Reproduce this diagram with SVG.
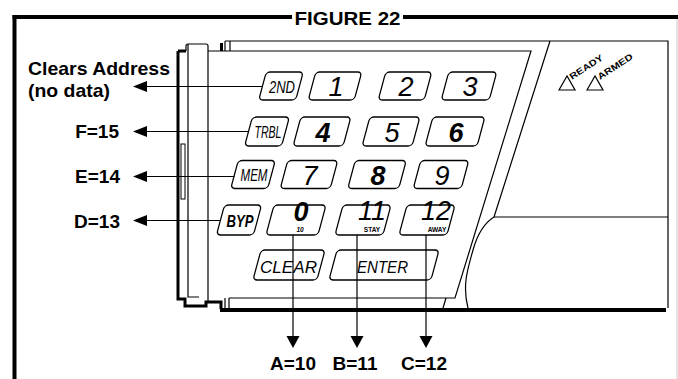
<svg xmlns="http://www.w3.org/2000/svg" width="678" height="379" viewBox="0 0 678 379">
<style>
.ln{stroke:#000;fill:none;stroke-width:1.2}
.key{stroke:#000;fill:#fff;stroke-width:1.3}
.lbl{font-family:"Liberation Sans",Arial,sans-serif;font-weight:bold;font-size:19px;fill:#000}
.fk{font-family:"Liberation Sans",Arial,sans-serif;font-style:italic;font-size:17px;fill:#000}
.dg{font-family:"Liberation Sans",Arial,sans-serif;font-style:italic;font-size:27px;fill:#000;text-anchor:middle}
.sm{font-family:"Liberation Sans",Arial,sans-serif;font-weight:bold;font-size:6.5px;fill:#000;text-anchor:middle}
.ind{font-family:"Liberation Sans",Arial,sans-serif;font-weight:bold;font-size:9px;fill:#000}
.arr{fill:#000}
</style>
<rect width="678" height="379" fill="#fff"/>
<g id="frame">
<line x1="14.5" y1="15" x2="14.5" y2="379" stroke="#000" stroke-width="4"/>
<line x1="12.5" y1="17" x2="292" y2="17" stroke="#000" stroke-width="4"/>
<line x1="403" y1="17" x2="678" y2="17" stroke="#000" stroke-width="4"/>
<line x1="677" y1="19" x2="677" y2="379" stroke="#c8c8c8" stroke-width="1"/>
<text x="347.5" y="24.5" class="lbl" font-size="18" text-anchor="middle" textLength="106" lengthAdjust="spacingAndGlyphs">FIGURE 22</text>
</g>
<g id="housing">
<path class="ln" d="M225,41 H668 V308"/>
<line class="ln" x1="230" y1="41" x2="230" y2="51"/>
<line class="ln" x1="225" y1="41" x2="225" y2="51"/>
<rect x="220" y="43" width="3" height="8" fill="#000"/>
<rect x="220" y="308" width="446" height="4" fill="#000"/>
<path d="M178,51 V299 H185 V306 H206 V302 H221 V309" stroke="#000" stroke-width="3" fill="none"/>
<path d="M178,51 H186" stroke="#000" stroke-width="3" fill="none"/>
<path class="ln" d="M186,51 V46 Q186,44 188,44 H206 Q208,44 208,46 V301"/>
<path class="ln" d="M188,44 V297 H199"/>
<rect x="181" y="144" width="4" height="55" fill="#fff" stroke="#000" stroke-width="1"/>
<line class="ln" x1="225" y1="298" x2="225" y2="308"/>
<line class="ln" x1="229" y1="298" x2="229" y2="308"/>
</g>
<g id="face">
<path class="ln" d="M208,51 H531 L455,298 H229"/>
<line class="ln" x1="446" y1="298" x2="443" y2="308"/>
<path class="ln" d="M550,41 L494,217 C486,222 478,232 473,250 C468,268 462,285 468,308"/>
<line class="ln" x1="494" y1="217" x2="668" y2="217"/>
</g>
<g id="indicators">
<polygon points="559,90 567,76 575,90" fill="#fff" stroke="#000" stroke-width="1.2"/>
<polygon points="587,90 595,76 603,90" fill="#fff" stroke="#000" stroke-width="1.2"/>
<text class="ind" transform="translate(572,80) rotate(-33)" textLength="38" lengthAdjust="spacingAndGlyphs">READY</text>
<text class="ind" transform="translate(600,80) rotate(-33)" textLength="40" lengthAdjust="spacingAndGlyphs">ARMED</text>
</g>
<g id="key-2nd"><rect class="key" transform="translate(281,86) skewX(-15)" x="-18.5" y="-14" width="37" height="28" rx="4"/><text class="fk" x="282" y="92.5" text-anchor="middle" textLength="26" lengthAdjust="spacingAndGlyphs">2ND</text></g>
<g id="key-1"><rect class="key" transform="translate(335,86) skewX(-15)" x="-23" y="-14" width="46" height="28" rx="4"/><text class="dg" x="336" y="96">1</text></g>
<g id="key-2"><rect class="key" transform="translate(405,86) skewX(-15)" x="-23" y="-14" width="46" height="28" rx="4"/><text class="dg" x="406" y="96">2</text></g>
<g id="key-3"><rect class="key" transform="translate(469,86) skewX(-15)" x="-24" y="-14" width="48" height="28" rx="4"/><text class="dg" x="470" y="96">3</text></g>
<g id="key-trbl"><rect class="key" transform="translate(267,131.5) skewX(-15)" x="-18.5" y="-14.5" width="37" height="29" rx="4"/><text class="fk" x="268" y="138" text-anchor="middle" textLength="27" lengthAdjust="spacingAndGlyphs">TRBL</text></g>
<g id="key-4"><rect class="key" transform="translate(322,131.5) skewX(-15)" x="-25" y="-14.5" width="50" height="29" rx="4"/><text class="dg" x="323" y="142" font-weight="bold">4</text></g>
<g id="key-5"><rect class="key" transform="translate(391,131.5) skewX(-15)" x="-25" y="-14.5" width="50" height="29" rx="4"/><text class="dg" x="392" y="142">5</text></g>
<g id="key-6"><rect class="key" transform="translate(455,131.5) skewX(-15)" x="-26" y="-14.5" width="52" height="29" rx="4"/><text class="dg" x="456" y="142" font-weight="bold">6</text></g>
<g id="key-mem"><rect class="key" transform="translate(253,174.5) skewX(-15)" x="-18.5" y="-14" width="37" height="28" rx="4"/><text class="fk" x="254" y="181" text-anchor="middle" textLength="27" lengthAdjust="spacingAndGlyphs">MEM</text></g>
<g id="key-7"><rect class="key" transform="translate(309,174.5) skewX(-15)" x="-25" y="-14" width="50" height="28" rx="4"/><text class="dg" x="310" y="185">7</text></g>
<g id="key-8"><rect class="key" transform="translate(377,174.5) skewX(-15)" x="-25.5" y="-14" width="51" height="28" rx="4"/><text class="dg" x="378" y="185" font-weight="bold">8</text></g>
<g id="key-9"><rect class="key" transform="translate(441,174.5) skewX(-15)" x="-24" y="-14" width="48" height="28" rx="4"/><text class="dg" x="442" y="185">9</text></g>
<g id="key-byp"><rect class="key" transform="translate(239,220) skewX(-15)" x="-18.5" y="-15" width="37" height="30" rx="4"/><text class="fk" x="240" y="226.5" font-weight="bold" text-anchor="middle" textLength="27" lengthAdjust="spacingAndGlyphs">BYP</text></g>
<g id="key-0"><rect class="key" transform="translate(296,220) skewX(-15)" x="-26" y="-15" width="52" height="30" rx="4"/><text class="dg" x="301" y="221" font-size="17" font-weight="bold">0</text><text class="sm" x="300" y="231.5" font-style="italic">10</text></g>
<g id="key-11"><rect class="key" transform="translate(363,220) skewX(-15)" x="-24" y="-15" width="48" height="30" rx="4"/><text class="dg" x="372" y="220" font-size="14">11</text><text class="sm" x="372" y="231.5">STAY</text></g>
<g id="key-12"><rect class="key" transform="translate(427,220) skewX(-15)" x="-24" y="-15" width="48" height="30" rx="4"/><text class="dg" x="436" y="220" font-size="14" fill="#555">12</text><text class="sm" x="437" y="231.5">AWAY</text></g>
<g id="key-clear"><rect class="key" transform="translate(289,265) skewX(-15)" x="-32" y="-15" width="64" height="30" rx="4"/><text class="fk" x="288.5" y="273" font-size="19" text-anchor="middle" textLength="57" lengthAdjust="spacingAndGlyphs">CLEAR</text></g>
<g id="key-enter"><rect class="key" transform="translate(384,265) skewX(-15)" x="-51" y="-15" width="102" height="30" rx="4"/><text class="fk" x="382.5" y="273" font-size="19" text-anchor="middle" textLength="51" lengthAdjust="spacingAndGlyphs">ENTER</text></g>
<g id="connectors">
<line class="ln" x1="146" y1="86.5" x2="262.5" y2="86.5" stroke-width="1.5"/>
<polygon class="arr" points="133,86.5 147,81 147,92"/>
<line class="ln" x1="146" y1="131.5" x2="248.5" y2="131.5" stroke-width="1.5"/>
<polygon class="arr" points="133,131.5 147,126 147,137"/>
<line class="ln" x1="146" y1="176.5" x2="234.5" y2="176.5" stroke-width="1.5"/>
<polygon class="arr" points="133,176.5 147,171 147,182"/>
<line class="ln" x1="146" y1="220.5" x2="220.5" y2="220.5" stroke-width="1.5"/>
<polygon class="arr" points="133,220.5 147,215 147,226"/>
<line class="ln" x1="293" y1="235" x2="293" y2="337" stroke-width="1.5"/>
<polygon class="arr" points="293,348 286.5,336 299.5,336"/>
<line class="ln" x1="357" y1="235" x2="357" y2="337" stroke-width="1.5"/>
<polygon class="arr" points="357,348 350.5,336 363.5,336"/>
<line class="ln" x1="426" y1="235" x2="426" y2="337" stroke-width="1.5"/>
<polygon class="arr" points="426,348 419.5,336 432.5,336"/>
</g>
<g id="labels">
<text class="lbl" x="28" y="75" textLength="142" lengthAdjust="spacingAndGlyphs">Clears Address</text>
<text class="lbl" x="28" y="97" textLength="82" lengthAdjust="spacingAndGlyphs">(no data)</text>
<text class="lbl" x="119" y="138" text-anchor="end">F=15</text>
<text class="lbl" x="120" y="183" text-anchor="end">E=14</text>
<text class="lbl" x="120" y="228" text-anchor="end">D=13</text>
<text class="lbl" x="293" y="370" text-anchor="middle">A=10</text>
<text class="lbl" x="355" y="370" text-anchor="middle">B=11</text>
<text class="lbl" x="424" y="370" text-anchor="middle">C=12</text>
</g>
</svg>
